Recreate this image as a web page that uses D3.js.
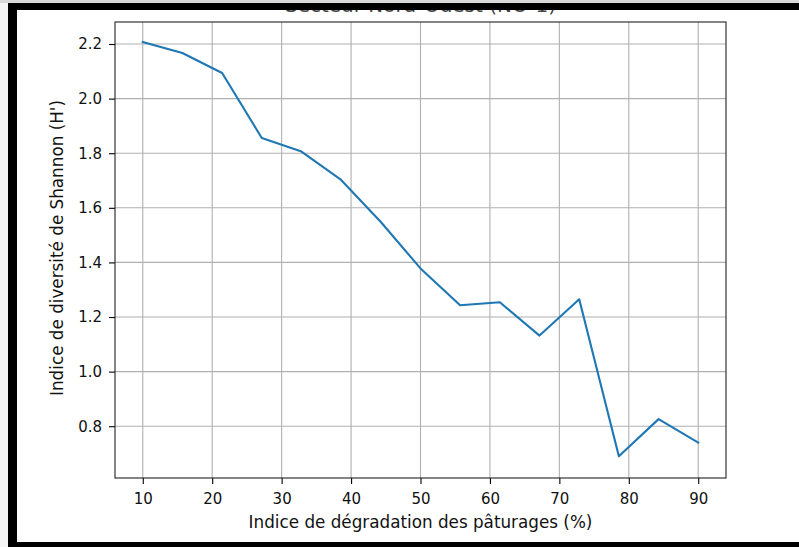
<!DOCTYPE html>
<html>
<head>
<meta charset="utf-8">
<script src="https://cdn.jsdelivr.net/npm/d3@7"></script>
<style>
  body { margin: 0; background: #fff; }
  svg { display: block; font-family: 'DejaVu Sans', sans-serif; }
</style>
</head>
<body>
<div id="app"></div>
<script>
// data
const degradation = [10, 15.71, 21.43, 27.14, 32.86, 38.57, 44.29, 50, 55.71, 61.43, 67.14, 72.86, 78.57, 84.29, 90];
const shannon = [2.207, 2.167, 2.094, 1.856, 1.806, 1.702, 1.548, 1.378, 1.243, 1.254, 1.132, 1.265, 0.690, 0.826, 0.740];
const xTicks = [10, 20, 30, 40, 50, 60, 70, 80, 90];
const yTicks = [0.8, 1.0, 1.2, 1.4, 1.6, 1.8, 2.0, 2.2];

const width = 799;
const height = 547;
const plot = { left: 115, right: 726, top: 22, bottom: 478 };

const svg = d3
  .select('#app')
  .append('svg')
  .attr('width', width)
  .attr('height', height);

svg.append('rect').attr('width', width).attr('height', height).attr('fill', '#fff');

const x = d3.scaleLinear().domain([6, 94]).range([plot.left, plot.right]);
const y = d3.scaleLinear().domain([0.6104, 2.2806]).range([plot.bottom, plot.top]);

// title (mostly hidden under the frame)
svg
  .append('text')
  .attr('x', (plot.left + plot.right) / 2)
  .attr('y', 12)
  .attr('text-anchor', 'middle')
  .attr('font-size', '20px')
  .attr('fill', '#444')
  .text('Secteur Nord-Ouest (NO-1)');

// grid
const grid = svg.append('g').attr('stroke', '#b0b0b0').attr('stroke-width', 1.1);
grid
  .selectAll('.gx')
  .data(xTicks)
  .enter()
  .append('line')
  .attr('x1', (d) => x(d))
  .attr('x2', (d) => x(d))
  .attr('y1', plot.top)
  .attr('y2', plot.bottom);
grid
  .selectAll('.gy')
  .data(yTicks)
  .enter()
  .append('line')
  .attr('x1', plot.left)
  .attr('x2', plot.right)
  .attr('y1', (d) => y(d))
  .attr('y2', (d) => y(d));

// line
const line = d3
  .line()
  .x((d, i) => x(degradation[i]))
  .y((d) => y(d));

svg
  .append('path')
  .datum(shannon)
  .attr('d', line)
  .attr('fill', 'none')
  .attr('stroke', '#1f77b4')
  .attr('stroke-width', 2.1)
  .attr('stroke-linejoin', 'round')
  .attr('stroke-linecap', 'square');

// axes
const xAxis = svg
  .append('g')
  .attr('transform', `translate(0,${plot.bottom})`)
  .call(d3.axisBottom(x).tickValues(xTicks).tickSize(6).tickPadding(9).tickSizeOuter(0));
const yAxis = svg
  .append('g')
  .attr('transform', `translate(${plot.left},0)`)
  .call(d3.axisLeft(y).tickValues(yTicks).tickFormat(d3.format('.1f')).tickSize(6).tickPadding(7).tickSizeOuter(0));

[xAxis, yAxis].forEach((a) => {
  a.select('.domain').remove();
  a.selectAll('text').attr('font-size', '15px').attr('fill', '#111').attr('font-family', 'DejaVu Sans');
  a.selectAll('line').attr('stroke', '#000').attr('stroke-width', 1.1);
});

// spines
svg
  .append('rect')
  .attr('x', plot.left)
  .attr('y', plot.top)
  .attr('width', plot.right - plot.left)
  .attr('height', plot.bottom - plot.top)
  .attr('fill', 'none')
  .attr('stroke', '#222')
  .attr('stroke-width', 1.1);

// axis labels
svg
  .append('text')
  .attr('x', (plot.left + plot.right) / 2)
  .attr('y', 528)
  .attr('text-anchor', 'middle')
  .attr('font-size', '16.8px')
  .attr('fill', '#111')
  .text('Indice de dégradation des pâturages (%)');

svg
  .append('text')
  .attr('transform', `translate(63,${(plot.top + plot.bottom) / 2 - 2}) rotate(-90)`)
  .attr('text-anchor', 'middle')
  .attr('font-size', '16.8px')
  .attr('fill', '#111')
  .text("Indice de diversité de Shannon (H')");

// frame around the screenshot
svg.append('rect').attr('x', 0).attr('y', 0).attr('width', width).attr('height', 3).attr('fill', '#d9d9d9');
svg.append('rect').attr('x', 0).attr('y', 3).attr('width', width).attr('height', 7).attr('fill', '#000');
svg.append('rect').attr('x', 8).attr('y', 3).attr('width', 9).attr('height', height - 3).attr('fill', '#000');
svg.append('rect').attr('x', 8).attr('y', 542).attr('width', width - 8).attr('height', 5).attr('fill', '#000');
svg.append('rect').attr('x', 0).attr('y', 3).attr('width', 8).attr('height', height - 3).attr('fill', '#f5f5f5');
</script>
</body>
</html>
